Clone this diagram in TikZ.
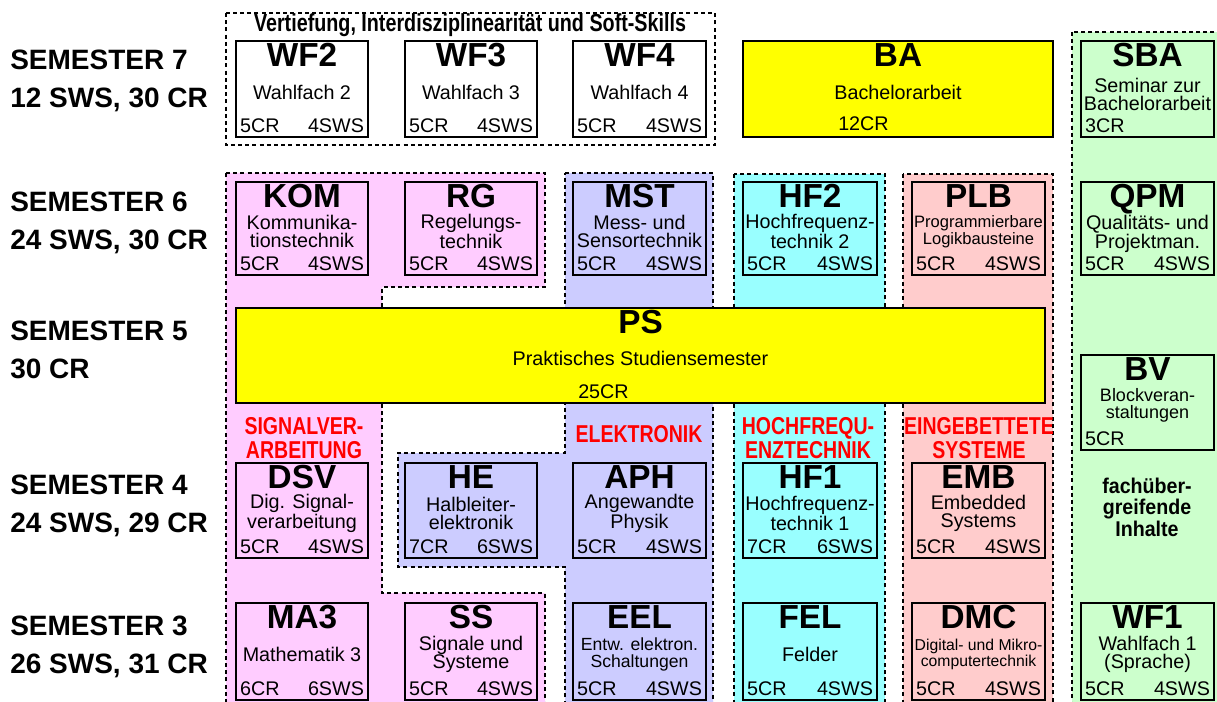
\documentclass[tikz,border=0pt]{standalone}
\usepackage{fontspec}
\setmainfont{Liberation Sans}
\newfontfamily\narrowsans{Liberation Sans}[FakeStretch=0.8]
\newfontfamily\semisans{Liberation Sans}[FakeStretch=0.92]
\usetikzlibrary{calc,fit}
\definecolor{pinkbg}{HTML}{FFCCFF}
\definecolor{bluebg}{HTML}{CCCCFF}
\definecolor{cyanbg}{HTML}{99FFFF}
\definecolor{salmonbg}{HTML}{FFCCCC}
\definecolor{greenbg}{HTML}{CCFFCC}
\definecolor{ybox}{HTML}{FFFF00}
\definecolor{redlab}{HTML}{FF0000}
\tikzset{
  regionline/.style={line width=1.4pt, dash pattern=on 3pt off 2.4pt},
  modbox/.style={draw, line width=1.8pt, inner sep=0pt},
  headtxt/.style={font=\bfseries\fontsize{25}{25}\selectfont, anchor=base, inner sep=0pt},
  bodytxt/.style={font=\fontsize{14.8}{13.5}\selectfont, align=center, inner sep=0pt},
  smallbody/.style={font=\fontsize{12.4}{12.6}\selectfont},
  dmcbody/.style={font=\fontsize{11.8}{12.4}\selectfont},
  eelbody/.style={font=\fontsize{13.2}{12.8}\selectfont},
  bvbody/.style={font=\fontsize{13.5}{12.6}\selectfont},
  lowbody/.style={yshift=-2pt},
  crtxt/.style={font=\fontsize{14.8}{15}\selectfont, inner sep=0pt},
  semtxt/.style={font=\bfseries\fontsize{21}{29}\selectfont, align=left, anchor=west, inner sep=0pt},
  redtxt/.style={text=redlab, font=\narrowsans\bfseries\fontsize{18.3}{18.3}\selectfont, align=center, inner sep=0pt},
  titletxt/.style={font=\narrowsans\bfseries\fontsize{18.5}{18}\selectfont, anchor=base, inner sep=0pt},
  crosstxt/.style={font=\semisans\bfseries\fontsize{16}{16.2}\selectfont, align=center, inner sep=0pt},
}
% #1 opts, #2 name, #3 corner1, #4 corner2, #5 code, #6 body, #7 CR, #8 SWS, #9 body style
\newcommand\modul[9][]{%
  \node[modbox, #1, fit={(#3) (#4)}] (#2) {};
  \node[headtxt] (#2-h) at ($(#2.north)+(0,27)$) {#5};
  \node[bodytxt, #9] (#2-b) at ($(#2.center)+(0,3)$) {#6};
  \node[crtxt, anchor=base west] (#2-c) at ($(#2.south west)+(5,-6)$) {#7};
  \node[crtxt, anchor=base east] (#2-s) at ($(#2.south east)+(-5,-6)$) {#8};
}
\begin{document}
\begin{tikzpicture}[x=0.75pt,y=-0.75pt]
\useasboundingbox (0,0) rectangle (1217,702);
\clip (0,0) rectangle (1217,702);
% regions
\path[fill=pinkbg, draw, regionline] (226,173) -- (545,173) -- (545,287) -- (382,287) -- (382,593) -- (545,593) -- (545,712) -- (226,712) -- cycle;
\path[fill=bluebg, draw, regionline] (565,173) -- (713,173) -- (713,712) -- (565,712) -- (565,567) -- (398,567) -- (398,453) -- (565,453) -- cycle;
\path[fill=cyanbg, draw, regionline] (734,174) rectangle (885,712);
\path[fill=salmonbg, draw, regionline] (903,174) rectangle (1053,712);
\path[fill=greenbg, draw, regionline] (1072,32) rectangle (1230,712);
\path[draw, regionline] (226,13) rectangle (715,145);
% title
\node[titletxt] (title) at (470,32) {Vertiefung, Interdisziplinearität und Soft-Skills};
% semester labels
\node[semtxt] (s7) at (10,81) {SEMESTER 7\\12 SWS, 30 CR};
\node[semtxt] (s6) at (10,223) {SEMESTER 6\\24 SWS, 30 CR};
\node[semtxt] (s5) at (10,350) {SEMESTER 5\\30 CR};
\node[semtxt] (s4) at (10,506) {SEMESTER 4\\24 SWS, 29 CR};
\node[semtxt] (s3) at (10,647) {SEMESTER 3\\26 SWS, 31 CR};
% semester 7
\modul{WF2}{236,41}{368,137}{WF2}{Wahlfach 2}{5CR}{4SWS}{}
\modul{WF3}{405,41}{537,137}{WF3}{Wahlfach 3}{5CR}{4SWS}{}
\modul{WF4}{573,41}{706,137}{WF4}{Wahlfach 4}{5CR}{4SWS}{}
\modul[fill=ybox]{BA}{743,41}{1053,137}{BA}{Bachelorarbeit}{}{}{}
\node[crtxt, anchor=base west] (BA-cr) at (838,131) {12CR};
\modul{SBA}{1081,41}{1214,137}{SBA}{Seminar zur\\Bachelorarbeit}{3CR}{}{lowbody}
% semester 6
\modul{KOM}{236,182}{368,275}{KOM}{Kommunika-\\tionstechnik}{5CR}{4SWS}{}
\modul{RG}{405,182}{537,275}{RG}{Regelungs-\\technik}{5CR}{4SWS}{}
\modul{MST}{573,182}{706,275}{MST}{Mess- und\\Sensortechnik}{5CR}{4SWS}{}
\modul{HF2}{743,182}{877,275}{HF2}{Hochfrequenz-\\technik 2}{5CR}{4SWS}{}
\modul{PLB}{912,182}{1045,275}{PLB}{Programmierbare\\Logikbausteine}{5CR}{4SWS}{smallbody}
\modul{QPM}{1081,182}{1214,275}{QPM}{Qualitäts- und\\Projektman.}{5CR}{4SWS}{lowbody}
% semester 5
\modul[fill=ybox]{PS}{236,308}{1045,403}{PS}{Praktisches Studiensemester}{}{}{}
\node[crtxt, anchor=base west] (PS-cr) at (578,398) {25CR};
\modul{BV}{1081,355}{1214,450}{BV}{Blockveran-\\staltungen}{5CR}{}{bvbody}
% red labels
\node[redtxt] (lsv) at (304,438) {SIGNALVER-\\ARBEITUNG};
\node[redtxt] (lel) at (639,434) {ELEKTRONIK};
\node[redtxt] (lhf) at (808,438) {HOCHFREQU-\\ENZTECHNIK};
\node[redtxt] (les) at (979,438) {EINGEBETTETE\\SYSTEME};
\node[crosstxt] (lfu) at (1147,507) {fachüber-\\greifende\\Inhalte};
% semester 4
\modul{DSV}{236,463}{368,558}{DSV}{Dig. Signal-\\verarbeitung}{5CR}{4SWS}{}
\modul{HE}{405,463}{537,558}{HE}{Halbleiter-\\elektronik}{7CR}{6SWS}{}
\modul{APH}{573,463}{706,558}{APH}{Angewandte\\Physik}{5CR}{4SWS}{}
\modul{HF1}{743,463}{877,558}{HF1}{Hochfrequenz-\\technik 1}{7CR}{6SWS}{}
\modul{EMB}{912,463}{1045,558}{EMB}{Embedded\\Systems}{5CR}{4SWS}{}
% semester 3
\modul{MA3}{236,603}{368,700}{MA3}{Mathematik 3}{6CR}{6SWS}{}
\modul{SS}{405,603}{537,700}{SS}{Signale und\\Systeme}{5CR}{4SWS}{}
\modul{EEL}{573,603}{706,700}{EEL}{Entw. elektron.\\Schaltungen}{5CR}{4SWS}{eelbody}
\modul{FEL}{743,603}{877,700}{FEL}{Felder}{5CR}{4SWS}{}
\modul{DMC}{912,603}{1045,700}{DMC}{Digital- und Mikro-\\computertechnik}{5CR}{4SWS}{dmcbody}
\modul{WF1}{1081,603}{1214,700}{WF1}{Wahlfach 1\\(Sprache)}{5CR}{4SWS}{}
\end{tikzpicture}
\end{document}
